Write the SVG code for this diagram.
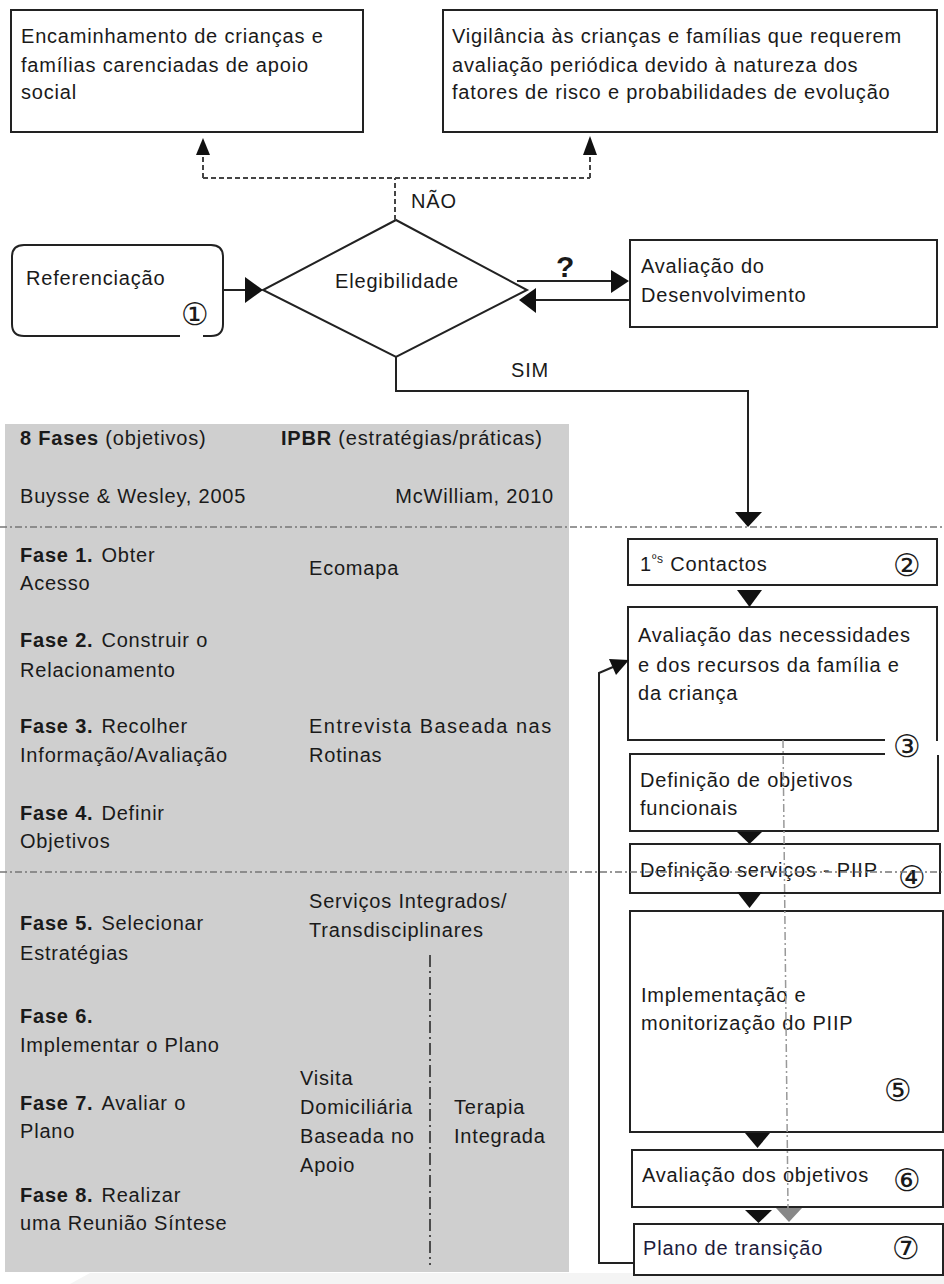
<svg xmlns="http://www.w3.org/2000/svg" width="944" height="1284" viewBox="0 0 944 1284">
<style>
.t{font-family:"Liberation Sans",Arial,sans-serif;font-size:20px;letter-spacing:0.8px;fill:#1a1a1a}
.b{font-weight:bold}
.box{fill:#fff;stroke:#222;stroke-width:2}
.open{fill:none;stroke:#222;stroke-width:2}
.num{font-family:"DejaVu Sans",sans-serif;font-size:31px;fill:#1a1a1a;text-anchor:middle;dominant-baseline:central}
.ln{fill:none;stroke:#222;stroke-width:2}
.dash{fill:none;stroke:#444;stroke-width:2;stroke-dasharray:5,3}
.dd{fill:none;stroke:#777;stroke-width:1.3;stroke-dasharray:7,3,2,3}
.ah{fill:#111}
</style>
<rect x="0" y="0" width="944" height="1284" fill="#fff"/>
<polygon points="70,1284 90,1273 944,1273 944,1284" fill="#f4f4f4"/>

<g id="panel">
<rect x="5" y="424" width="564" height="848" fill="#cfcfcf"/>
<text class="t" x="20" y="445"><tspan class="b">8 Fases</tspan> (objetivos)</text>
<text class="t" x="281" y="445"><tspan class="b">IPBR</tspan> (estratégias/práticas)</text>
<text class="t" x="20" y="503">Buysse &amp; Wesley, 2005</text>
<text class="t" x="554" y="503" text-anchor="end">McWilliam, 2010</text>
<text class="t" x="20" y="562"><tspan class="b">Fase 1.</tspan><tspan dx="8">Obter</tspan></text>
<text class="t" x="20" y="590">Acesso</text>
<text class="t" x="309" y="575">Ecomapa</text>
<text class="t" x="20" y="647"><tspan class="b">Fase 2.</tspan><tspan dx="8">Construir o</tspan></text>
<text class="t" x="20" y="677">Relacionamento</text>
<text class="t" x="20" y="733"><tspan class="b">Fase 3.</tspan><tspan dx="8">Recolher</tspan></text>
<text class="t" x="20" y="762">Informação/Avaliação</text>
<text class="t" x="309" y="733" textLength="243" lengthAdjust="spacing">Entrevista Baseada nas</text>
<text class="t" x="309" y="762">Rotinas</text>
<text class="t" x="20" y="820"><tspan class="b">Fase 4.</tspan><tspan dx="8">Definir</tspan></text>
<text class="t" x="20" y="848">Objetivos</text>
<text class="t" x="309" y="908">Serviços Integrados/</text>
<text class="t" x="309" y="937">Transdisciplinares</text>
<text class="t" x="20" y="930"><tspan class="b">Fase 5.</tspan><tspan dx="8">Selecionar</tspan></text>
<text class="t" x="20" y="960">Estratégias</text>
<text class="t b" x="20" y="1023">Fase 6.</text>
<text class="t" x="20" y="1052">Implementar o Plano</text>
<text class="t" x="20" y="1110"><tspan class="b">Fase 7.</tspan><tspan dx="8">Avaliar o</tspan></text>
<text class="t" x="20" y="1138">Plano</text>
<text class="t" x="20" y="1202"><tspan class="b">Fase 8.</tspan><tspan dx="8">Realizar</tspan></text>
<text class="t" x="20" y="1230">uma Reunião Síntese</text>
<text class="t" x="300" y="1085">Visita</text>
<text class="t" x="300" y="1114">Domiciliária</text>
<text class="t" x="300" y="1143">Baseada no</text>
<text class="t" x="300" y="1172">Apoio</text>
<text class="t" x="454" y="1114">Terapia</text>
<text class="t" x="454" y="1143">Integrada</text>
<line x1="430" y1="955" x2="430" y2="1265" stroke="#222" stroke-width="1.5" stroke-dasharray="12,4,2,4"/>
</g>

<g id="encaminhamento">
<rect class="box" x="11" y="10" width="352" height="122"/>
<text class="t" x="21" y="43">Encaminhamento de crianças e</text>
<text class="t" x="21" y="72">famílias carenciadas de apoio</text>
<text class="t" x="21" y="99">social</text>
</g>

<g id="vigilancia">
<rect class="box" x="443" y="10" width="494" height="122"/>
<text class="t" x="452" y="43">Vigilância às crianças e famílias que requerem</text>
<text class="t" x="452" y="72">avaliação periódica devido à natureza dos</text>
<text class="t" x="452" y="99">fatores de risco e probabilidades de evolução</text>
</g>

<g id="referenciacao">
<path class="open" d="M180,336 L24,336 Q12,336 12,324 L12,257 Q12,245 24,245 L211,245 Q223,245 223,257 L223,324 Q223,336 211,336 L203,336"/>
<text class="t" x="26" y="285">Referenciação</text>
<text class="num" x="195" y="314">①</text>
</g>

<g id="elegibilidade">
<polygon class="box" points="396,220 527,290 396,357 263,290"/>
<text class="t" x="397" y="288" text-anchor="middle">Elegibilidade</text>
</g>

<g id="avaliacao-desenvolvimento">
<rect class="box" x="630" y="240" width="307" height="87"/>
<text class="t" x="641" y="273">Avaliação do</text>
<text class="t" x="641" y="302">Desenvolvimento</text>
</g>

<g id="contactos">
<rect class="box" x="628" y="539" width="309" height="46"/>
<text class="t" x="640" y="571">1<tspan font-size="12" dy="-8">ºs</tspan><tspan dy="8"> Contactos</tspan></text>
<text class="num" x="907" y="565">②</text>
</g>

<g id="avaliacao-necessidades">
<path class="open" d="M885,740 L628,740 L628,607 L937,607 L937,741" fill="#fff"/>
<text class="t" x="638" y="642">Avaliação das necessidades</text>
<text class="t" x="638" y="672">e dos recursos da família e</text>
<text class="t" x="638" y="700">da criança</text>
<text class="num" x="907" y="746">③</text>
</g>

<g id="definicao-objetivos">
<path class="open" d="M885,754 L630,754 L630,831 L938,831 L938,755"/>
<text class="t" x="640" y="787">Definição de objetivos</text>
<text class="t" x="640" y="815">funcionais</text>
</g>

<g id="definicao-servicos">
<rect class="box" x="630" y="844" width="310" height="49"/>
<text class="t" x="640" y="877">Definição serviços - PIIP</text>
<text class="num" x="912" y="877">④</text>
</g>

<g id="implementacao">
<rect class="box" x="630" y="911" width="313" height="221"/>
<text class="t" x="641" y="1002">Implementação e</text>
<text class="t" x="641" y="1030">monitorização do PIIP</text>
<text class="num" x="898" y="1090">⑤</text>
</g>

<g id="avaliacao-objetivos">
<rect class="box" x="632" y="1150" width="311" height="57"/>
<text class="t" x="642" y="1182">Avaliação dos objetivos</text>
<text class="num" x="907" y="1180">⑥</text>
</g>

<g id="plano-transicao">
<rect class="box" x="634" y="1224" width="309" height="51"/>
<text class="t" x="643" y="1255" style="fill:#1c1c3c">Plano de transição</text>
<text class="num" x="906" y="1248">⑦</text>
</g>

<g id="dividers">
<line class="dd" x1="0" y1="527" x2="944" y2="527"/>
<line class="dd" x1="0" y1="872" x2="944" y2="872"/>
</g>

<g id="connectors">
<path class="dash" d="M395,220 L395,178 M203,178 L590,178 M203,178 L203,154 M590,178 L590,154"/>
<polygon class="ah" points="203,138 196,155 210,155"/>
<polygon class="ah" points="590,136 583,155 597,155"/>
<text class="t" x="411" y="208">NÃO</text>
<line class="ln" x1="223" y1="290" x2="248" y2="290"/>
<polygon class="ah" points="263,290 245,277 245,303"/>
<line class="ln" x1="517" y1="281" x2="612" y2="281"/>
<polygon class="ah" points="629,281 611,270 611,293"/>
<text class="t b" x="556" y="277" style="font-size:30px">?</text>
<line class="ln" x1="629" y1="300" x2="535" y2="300"/>
<polygon class="ah" points="519,300 536,288 536,313"/>
<path class="ln" d="M396,357 L396,391 L748,391 L748,513"/>
<polygon class="ah" points="748,527 735,512 762,512"/>
<text class="t" x="511" y="377">SIM</text>
<polygon class="ah" points="737,590 762,590 749.5,607"/>
<polygon class="ah" points="737,832 762,832 749.5,844"/>
<polygon class="ah" points="737,892 762,892 749.5,908"/>
<polygon class="ah" points="745,1133 770,1133 757.5,1148"/>
<polygon class="ah" points="745,1210 772,1210 758.5,1223"/>
<path d="M783,740 L788,1208" fill="none" stroke="#999" stroke-width="1.5" stroke-dasharray="8,3,2,3"/>
<polygon points="776,1208 802,1208 789,1222" fill="#888"/>
<path class="ln" d="M634,1263 L599,1263 L599,673 L613,667"/>
<polygon class="ah" points="629,660 616,675 609,659"/>
</g>
</svg>
